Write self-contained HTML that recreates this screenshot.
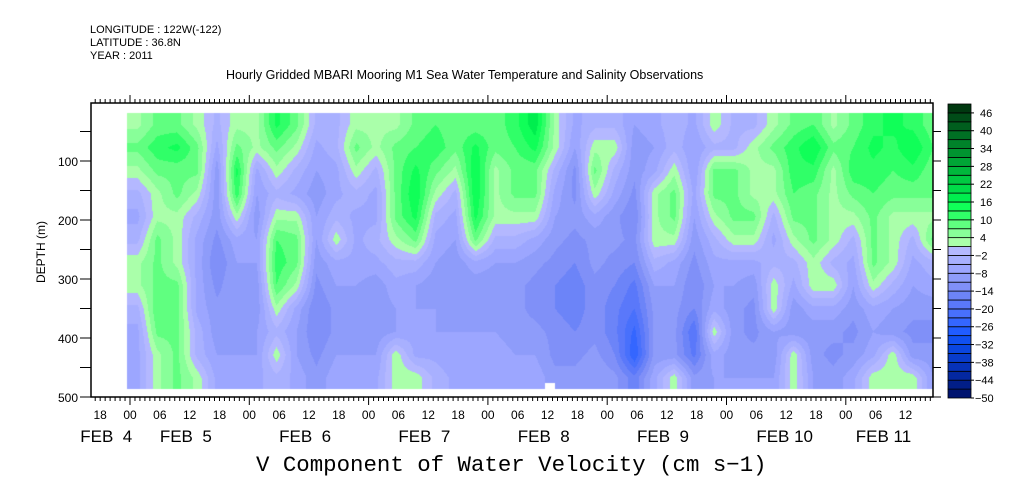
<!DOCTYPE html>
<html><head><meta charset="utf-8"><style>
body{margin:0;background:#fff;width:1009px;height:504px;overflow:hidden;position:relative;font-family:"Liberation Sans",sans-serif}
.t{position:absolute;white-space:nowrap;color:#000}
</style></head><body>
<div class="t" style="left:90px;top:24px;font-size:11px">LONGITUDE : 122W(-122)</div>
<div class="t" style="left:90px;top:37px;font-size:11px">LATITUDE : 36.8N</div>
<div class="t" style="left:90px;top:50px;font-size:11px">YEAR : 2011</div>
<div class="t" style="left:226px;top:68px;font-size:12.5px">Hourly Gridded MBARI Mooring M1 Sea Water Temperature and Salinity Observations</div>
<div class="t" style="left:256px;top:452px;font-size:22.4px;font-family:'Liberation Mono',monospace">V Component of Water Velocity (cm s−1)</div>
<canvas id="hm" width="1009" height="504" style="position:absolute;left:0;top:0"></canvas>
<svg id="ax" width="1009" height="504" style="position:absolute;left:0;top:0"></svg>
<script>
// heatmap data: 41 columns (every 4h from Feb 4 ~00h), 12 depth rows (top->bottom)
const colStartHour = -0.6;
const colStepHours = 4;
const rowDepths = [18,57,96,135,174,213,252,291,330,369,408,447];
const rowStepDepth = 39;
const values = [
[3,8,3,-3,-6,-3,3,3,-3,-6,-6,-6],
[8,12,8,3,3,8,8,8,10,8,3,3],
[8,14,8,8,3,3,3,8,8,8,8,8],
[3,8,8,3,-3,-6,-6,-6,-6,-3,-3,3],
[-3,-6,-10,-10,-10,-12,-14,-12,-10,-10,-8,-6],
[3,8,14,12,3,-6,-8,-8,-10,-10,-8,-6],
[3,3,-6,-8,-10,-8,-8,-10,-10,-8,-8,-6],
[14,8,3,-3,3,10,12,10,3,-3,3,-3],
[8,3,-3,-6,3,8,8,3,-6,-8,-8,-6],
[-3,-6,-8,-10,-8,-8,-10,-12,-14,-14,-12,-10],
[-3,-3,-6,-6,-3,3,-6,-8,-10,-10,-8,-6],
[3,8,3,-3,-6,-6,-6,-8,-8,-8,-8,-6],
[3,3,-3,-6,-6,-3,-6,-10,-10,-10,-8,-6],
[3,8,8,8,8,3,-3,-6,-8,-8,3,3],
[8,10,14,16,14,8,-3,-8,-8,-6,-6,3],
[10,12,8,3,-3,-6,-8,-10,-8,-8,-6,-3],
[8,8,3,-3,-6,-8,-10,-10,-10,-8,-8,-6],
[8,14,16,16,14,8,-6,-10,-10,-8,-8,-6],
[8,8,3,3,3,-3,-8,-10,-10,-8,-6,-6],
[12,10,8,8,3,-3,-8,-10,-10,-10,-8,-6],
[18,14,8,8,3,-6,-10,-12,-12,-10,-8,-6],
[3,3,-3,-6,-8,-10,-12,-14,-14,-12,-12,-10],
[-6,-8,-12,-12,-10,-12,-14,-16,-16,-14,-12,-10],
[-3,3,8,3,-6,-10,-10,-12,-12,-12,-10,-8],
[-3,3,-3,-6,-10,-10,-12,-14,-16,-16,-14,-10],
[-8,-10,-10,-12,-14,-12,-14,-18,-20,-24,-26,-16],
[-6,-8,-6,3,3,3,-3,-8,-10,-10,-10,-6],
[-3,-3,3,8,8,3,-6,-8,-10,-10,-10,3],
[-6,-8,-8,-6,-8,-10,-12,-14,-14,-20,-18,-10],
[3,-3,8,8,3,-3,-6,-8,-6,3,-6,-8],
[-3,-3,8,8,8,3,-6,-8,-10,-10,-10,-8],
[-3,3,3,3,8,3,-6,-10,-12,-12,-10,-8],
[3,8,3,3,-3,-6,-3,3,3,-8,-10,-8],
[8,12,12,10,8,3,-3,-6,-10,-10,3,3],
[10,16,12,8,8,8,3,3,-6,-10,-10,-8],
[3,8,3,3,3,3,-3,3,-6,-10,-12,-10],
[8,10,12,8,3,-3,-6,-8,-10,-12,-10,-6],
[12,14,12,10,8,8,8,3,-6,-8,-6,3],
[14,12,10,8,3,3,3,-3,-8,-10,3,3],
[12,16,12,8,3,-3,-6,-8,-10,-12,-10,3],
[8,10,8,8,3,8,-3,-6,-10,-12,-10,-8]
];
const levelColors = ["#001470","#021e88","#0428a0","#0632b8","#083ccc","#0a46e0","#1050f0","#205cff","#3466ff","#4870fc","#5a78fa","#6c84f8","#8090f8","#8e9cfa","#9ca6ff","#a8b0ff","#b4b8ff","#aaffaa","#88ff99","#60ff80","#30ff68","#10ff58","#00ee4e","#00dc48","#00ca42","#00b83c","#00a636","#009430","#00822a","#007024","#005e1e","#004c18","#003810"];
const levelMin = -50, levelStep = 3;
const cbarLabels = [46,40,34,28,22,16,10,4,-2,-8,-14,-20,-26,-32,-38,-44,-50];
const depthTicks = [100,200,300,400,500];
const hourLabels = ["18","00","06","12","18","00","06","12","18","00","06","12","18","00","06","12","18","00","06","12","18","00","06","12","18","00","06","12","18","00","06","12","18","00","06","12","18","00","06","12","18","00","06","12","18","00","06","12"];
const dayLabels = ["FEB  4","FEB  5","FEB  6","FEB  7","FEB  8","FEB  9","FEB 10","FEB 11"];
const dayLabelHours = [-10,6,30,54,78,102,126,146];

const X0=130, PXH=119.3/24, Y0=102, PXM=0.59;
const FL=91, FR=933, FT=103, FB=397, DL=127, DR=933, DT=113, DB=389;
function xScale(h){return X0+h*PXH;}
function yScale(d){return Y0+d*PXM;}
function colorFor(v){let i=Math.floor((v-levelMin)/levelStep);i=Math.max(0,Math.min(levelColors.length-1,i));return levelColors[i];}

// heatmap via bilinear interpolation, quantized to levels
const cv=document.getElementById('hm'),ctx=cv.getContext('2d');
const nC=values.length,nR=rowDepths.length;
const rgb=levelColors.map(c=>[parseInt(c.slice(1,3),16),parseInt(c.slice(3,5),16),parseInt(c.slice(5,7),16)]);
const img=ctx.createImageData(DR-DL,DB-DT);
for(let py=DT;py<DB;py++){
  const d=(py-Y0)/PXM;
  let v=(d-rowDepths[0]-rowStepDepth/2)/rowStepDepth;v=Math.max(0,Math.min(nR-1,v));
  const r0=Math.floor(v),r1=Math.min(nR-1,r0+1),fv=v-r0;
  for(let px=DL;px<DR;px++){
    const h=(px-X0)/PXH;
    let u=(h-colStartHour-colStepHours/2)/colStepHours;u=Math.max(0,Math.min(nC-1,u));
    const c0=Math.floor(u),c1=Math.min(nC-1,c0+1),fu=u-c0;
    const val=(values[c0][r0]*(1-fu)+values[c1][r0]*fu)*(1-fv)+(values[c0][r1]*(1-fu)+values[c1][r1]*fu)*fv;
    let i=Math.floor((val-levelMin)/levelStep);i=Math.max(0,Math.min(rgb.length-1,i));
    const k=((py-DT)*(DR-DL)+(px-DL))*4;
    img.data[k]=rgb[i][0];img.data[k+1]=rgb[i][1];img.data[k+2]=rgb[i][2];img.data[k+3]=255;
  }
}
ctx.putImageData(img,DL,DT);
ctx.fillStyle='#fff';ctx.fillRect(545,383,10,6);

// axes
const NS='http://www.w3.org/2000/svg',svg=document.getElementById('ax');
function mk(tag,attrs,name){const e=document.createElementNS(NS,tag);for(const k in attrs)e.setAttribute(k,attrs[k]);


svg.appendChild(e);return e;}
mk('rect',{x:FL,y:FT,width:FR-FL,height:FB-FT,fill:'none',stroke:'#000','stroke-width':1.5},'plot-frame');
// hourly ticks
for(let h=-7;xScale(h)<=FR;h++){
  const x=xScale(h);if(x<FL)continue;
  const major=((h%24)+24)%24===0;
  mk('line',{x1:x,x2:x,y1:FT,y2:FT-(major?8:4),stroke:'#000','stroke-width':1},'top-tick');
  mk('line',{x1:x,x2:x,y1:FB,y2:FB+(major?8:4),stroke:'#000','stroke-width':1},'bottom-tick');
}
hourLabels.forEach((lab,i)=>{const h=-6+i*6;const x=xScale(h);if(x>FR)return;
  const t=mk('text',{x:x,y:419,'text-anchor':'middle','font-size':12,'font-family':'Liberation Sans'},'hour-tick-label');t.textContent=lab;});
dayLabels.forEach((lab,i)=>{const t=mk('text',{x:xScale(dayLabelHours[i]),y:442,'font-size':17,'font-family':'Liberation Sans','xml:space':'preserve'},'day-label');t.style.whiteSpace='pre';t.textContent=lab;});
// depth ticks
for(let d=50;d<=500;d+=50){const y=yScale(d);
  mk('line',{x1:FL-11,x2:FL,y1:y,y2:y,stroke:'#000','stroke-width':1},'depth-tick');
  mk('line',{x1:FR,x2:FR+8,y1:y,y2:y,stroke:'#000','stroke-width':1},'depth-tick-right');}
depthTicks.forEach(d=>{const t=mk('text',{x:78,y:yScale(d)+5,'text-anchor':'end','font-size':12,'font-family':'Liberation Sans'},'depth-tick-label');t.textContent=d;});
const yt=mk('text',{x:45,y:252,'text-anchor':'middle','font-size':12,'font-family':'Liberation Sans',transform:'rotate(-90 45 252)'},'y-axis-title');yt.textContent='DEPTH (m)';
// colorbar
const CB={x:948,w:23,top:104,bot:398};const bh=(CB.bot-CB.top)/levelColors.length;
levelColors.forEach((c,i)=>{mk('rect',{x:CB.x,y:CB.bot-(i+1)*bh,width:CB.w,height:bh,fill:c,stroke:'#000','stroke-width':0.8},'colorbar-band');});
cbarLabels.forEach(v=>{const y=CB.bot-(v-levelMin)/levelStep*bh;
  mk('line',{x1:CB.x+CB.w,x2:CB.x+CB.w+3,y1:y,y2:y,stroke:'#000'},'colorbar-tick');
  const t=mk('text',{x:v<0?975:980,y:y+4,'font-size':11,'font-family':'Liberation Sans'},'colorbar-label');t.textContent=(v<0?'−'+(-v):v);});
</script>
</body></html>
